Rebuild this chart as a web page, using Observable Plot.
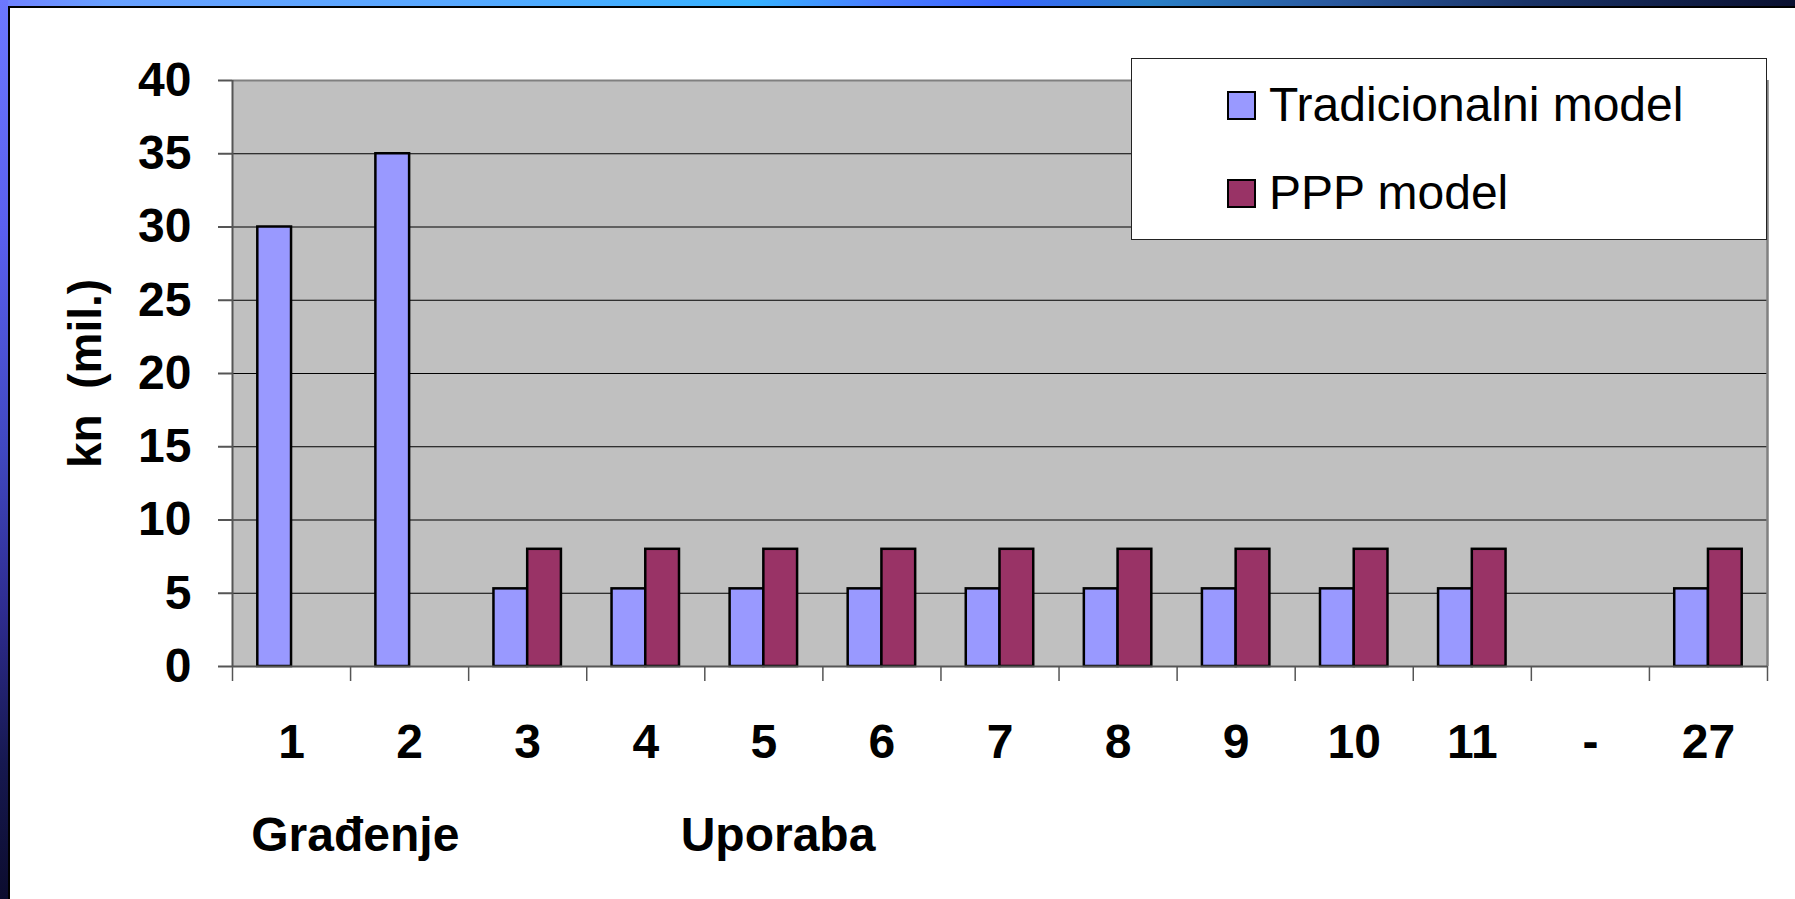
<!DOCTYPE html>
<html>
<head>
<meta charset="utf-8">
<script src="https://cdn.jsdelivr.net/npm/d3@7"></script>
<script src="https://cdn.jsdelivr.net/npm/@observablehq/plot@0.6"></script>
<style>
  html, body { margin: 0; padding: 0; background: #fff; }
  #page { position: relative; width: 1795px; height: 899px; overflow: hidden; background: #fff; font-family: "Liberation Sans", Arial, sans-serif; }
  #topbar { position: absolute; left: 0; top: 0; width: 1795px; height: 7px;
    background: linear-gradient(to right, #7080ff 0%, #68a0ff 6%, #58a8ff 25%, #36b2ff 42%, #4a7cff 49%, #3a66ff 56%, #2a80c8 64%, #2a5aa0 74%, #1a3468 85%, #0a1030 100%); }
  #leftbar { position: absolute; left: 0; top: 0; width: 8px; height: 899px;
    background: linear-gradient(to bottom, #6c78ff 0%, #5a60f0 25%, #4048c0 50%, #2e2c90 68%, #161850 85%, #0c0c2e 100%); }
  #topline { position: absolute; left: 8px; top: 6px; width: 1787px; height: 1.5px; background: #000; }
  #leftline { position: absolute; left: 8px; top: 6px; width: 1.5px; height: 893px; background: #000; }
  #chart { position: absolute; left: 0; top: 0; }
  #chart svg text { white-space: pre; }
  #legend { position: absolute; left: 1131px; top: 58px; width: 636px; height: 182px; background: #fff;
    border: 1.5px solid #222; box-sizing: border-box; }
  .sw { position: absolute; width: 29px; height: 29px; border: 2.5px solid #000; box-sizing: border-box; }
  .lt { position: absolute; font-size: 48px; line-height: 48px; color: #000; white-space: pre; font-family: "Liberation Sans", Arial, sans-serif; }
</style>
</head>
<body>
<div id="page">
  <div id="topbar"></div>
  <div id="leftbar"></div>
  <div id="topline"></div>
  <div id="leftline"></div>
  <div id="chart"></div>
  <div id="legend"></div>
</div>
<script>
// ---- data ----
const categories = ["1", "2", "3", "4", "5", "6", "7", "8", "9", "10", "11", "-", "27"];
const tradicionalni = [30, 35, 5.3, 5.3, 5.3, 5.3, 5.3, 5.3, 5.3, 5.3, 5.3, null, 5.3];
const ppp = [null, null, 8, 8, 8, 8, 8, 8, 8, 8, 8, null, 8];
const seriesNames = ["Tradicionalni model", "PPP model"];
const seriesColors = ["#9999FF", "#993366"];
const yTicks = [0, 5, 10, 15, 20, 25, 30, 35, 40];
const yTitle = "kn  (mil.)";
const phaseNames = ["Građenje", "Uporaba"];

// ---- layout ----
const W = 1795, H = 899;
const gapWidth = 1.5;                    // Excel-style gap width
const bw = 1 / (seriesNames.length + gapWidth); // bar width in category units
const rows = categories.map((c, i) => ({i, c, t: tradicionalni[i], p: ppp[i]}));
const phaseX = [1.04, 4.62];             // label centres in category units
const font = "'Liberation Sans', Arial, sans-serif";
const axisColor = "#555";

const chart = Plot.plot({
  width: W,
  height: H,
  marginLeft: 232,
  marginRight: 28,
  marginTop: 80,
  marginBottom: 233,
  style: {background: "transparent", fontFamily: font, overflow: "visible", color: "#000"},
  x: {type: "linear", domain: [0, categories.length], axis: null},
  y: {domain: [0, 40], axis: null},
  marks: [
    Plot.frame({fill: "#c0c0c0", stroke: "none"}),
    Plot.ruleY(yTicks.filter(v => v > 0 && v < 40), {stroke: "#000", strokeWidth: 1}),
    Plot.ruleY([40], {stroke: "#808080", strokeWidth: 2}),
    Plot.ruleX([categories.length], {y1: 0, y2: 40, stroke: "#808080", strokeWidth: 2.5}),
    Plot.rectY(rows.filter(d => d.t != null), {
      x1: d => d.i + 0.5 - bw, x2: d => d.i + 0.5, y: "t",
      fill: seriesColors[0], stroke: "#000", strokeWidth: 2.5
    }),
    Plot.rectY(rows.filter(d => d.p != null), {
      x1: d => d.i + 0.5, x2: d => d.i + 0.5 + bw, y: "p",
      fill: seriesColors[1], stroke: "#000", strokeWidth: 2.5
    }),
    Plot.ruleX([0], {y1: 0, y2: 40, stroke: axisColor, strokeWidth: 2}),
    Plot.ruleY([0], {stroke: axisColor, strokeWidth: 2}),
    Plot.axisY({
      ticks: yTicks, tickSize: 14, tickPadding: 27, stroke: axisColor, strokeWidth: 2,
      fontSize: 48, fontWeight: "bold", label: null
    }),
    Plot.axisX({
      ticks: d3.range(categories.length + 1), tickSize: 15, tickFormat: () => "",
      stroke: axisColor, strokeWidth: 1.5, label: null
    }),
    Plot.axisX({
      ticks: d3.range(categories.length).map(i => i + 0.5), tickSize: 0, tickPadding: 57,
      tickFormat: v => categories[Math.floor(v)], fontSize: 48, fontWeight: "bold", label: null
    }),
    Plot.text([yTitle], {
      frameAnchor: "left", textAnchor: "middle", rotate: -90, dx: -146,
      fontSize: 46, fontWeight: "bold", fill: "#000"
    }),
    Plot.text(phaseNames, {
      x: (d, i) => phaseX[i], y: 0, dy: 169, fontSize: 48, fontWeight: "bold", fill: "#000"
    })
  ]
});
document.getElementById("chart").appendChild(chart);

// ---- legend ----
const legend = document.getElementById("legend");
seriesNames.forEach((name, i) => {
  const sw = document.createElement("div");
  sw.className = "sw";
  sw.style.left = "95px";
  sw.style.top = (31.5 + i * 88) + "px";
  sw.style.background = seriesColors[i];
  legend.appendChild(sw);
  const t = document.createElement("div");
  t.className = "lt";
  t.style.left = "137px";
  t.style.top = (22 + i * 88) + "px";
  t.textContent = name;
  legend.appendChild(t);
});
</script>
</body>
</html>
